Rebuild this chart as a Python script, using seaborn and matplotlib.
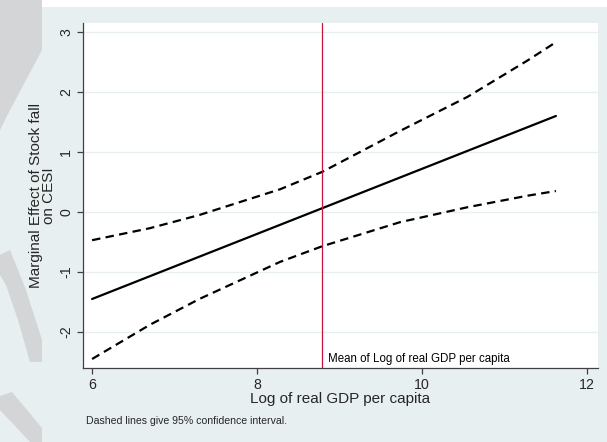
import matplotlib
matplotlib.use("Agg")
import matplotlib.pyplot as plt
from matplotlib.patches import Polygon, Rectangle
import numpy as np
import pandas as pd
import seaborn as sns

# Marginal effect estimate (linear in log GDP)
est_x = [6.0, 11.62]
est_y = [-1.45, 1.60]

# 95% confidence band
ci_x = [6.0, 6.7, 7.3, 8.28, 8.79, 9.73, 10.55, 11.27, 11.62]
ci_upper = [-0.47, -0.27, -0.05, 0.38, 0.67, 1.35, 1.92, 2.52, 2.83]
ci_lower = [-2.45, -1.88, -1.45, -0.83, -0.57, -0.17, 0.08, 0.27, 0.35]

mean_gdp = 8.79

x_ticks = [6, 8, 10, 12]
y_ticks = [-2, -1, 0, 1, 2, 3]

sns.set_style("white")
plt.rcParams["font.family"] = ["Liberation Sans", "DejaVu Sans"]

W, H = 607, 442
fig = plt.figure(figsize=(W / 100, H / 100), dpi=100, facecolor="white")

bg = "#e8eff1"
fig.patches.append(Rectangle((0, 0), 1, (H - 7) / H, transform=fig.transFigure,
                             facecolor=bg, edgecolor="none", zorder=0))

# faint grey shapes along the left edge
def fig_poly(pts):
    pts = [(x / W, 1 - y / H) for x, y in pts]
    fig.patches.append(Polygon(pts, closed=True, transform=fig.transFigure,
                               facecolor="#d3d5d6", edgecolor="none", zorder=1))

fig_poly([(0, 0), (42, 0), (42, 50), (10, 110), (0, 130)])
fig_poly([(0, 255), (10, 250), (26, 290), (42, 340), (42, 362), (30, 362), (18, 320), (6, 285), (0, 275)])
fig_poly([(0, 396), (12, 392), (42, 428), (42, 442), (30, 442), (0, 410)])

ax = fig.add_axes([83 / W, 1 - 368 / H, 515 / W, 345 / H])
ax.set_facecolor("white")
ax.set_zorder(2)

df_est = pd.DataFrame({"x": est_x, "y": est_y})
df_ci = pd.DataFrame({"x": ci_x, "upper": ci_upper, "lower": ci_lower})

for yv in y_ticks:
    ax.axhline(yv, color=bg, lw=0.9, zorder=0)

sns.lineplot(data=df_ci, x="x", y="upper", ax=ax, color="black", lw=1.6,
             linestyle=(0, (3.8, 2.4)))
sns.lineplot(data=df_ci, x="x", y="lower", ax=ax, color="black", lw=1.6,
             linestyle=(0, (3.8, 2.4)))
sns.lineplot(data=df_est, x="x", y="y", ax=ax, color="black", lw=1.6)

ax.axvline(mean_gdp, color="#c8143c", lw=0.9)
ax.text(mean_gdp + 0.07, -2.55, "Mean of Log of real GDP per capita",
        fontsize=8.3, va="bottom", ha="left", color="black")

ax.set_xlim(5.89, 12.13)
ax.set_ylim(-2.6, 3.15)
ax.set_xticks(x_ticks)
ax.set_yticks(y_ticks)
ax.set_yticklabels([str(v) for v in y_ticks], rotation=90, va="center")
ax.tick_params(axis="both", direction="out", length=4, width=0.9, color="#404040",
               labelsize=10.2, pad=3, left=True, bottom=True)

for s in ["top", "right"]:
    ax.spines[s].set_visible(False)
for s in ["left", "bottom"]:
    ax.spines[s].set_color("#404040")
    ax.spines[s].set_linewidth(0.9)

ax.set_xlabel("Log of real GDP per capita", fontsize=11, labelpad=0)
ax.set_ylabel("Marginal Effect of Stock fall\non CESI", fontsize=11, labelpad=2,
              linespacing=0.95)

fig.text(86 / W, 1 - 421 / H, "Dashed lines give 95% confidence interval.",
         fontsize=7.6, va="center", ha="left")

fig.savefig("out.png", dpi=100, facecolor="white")
